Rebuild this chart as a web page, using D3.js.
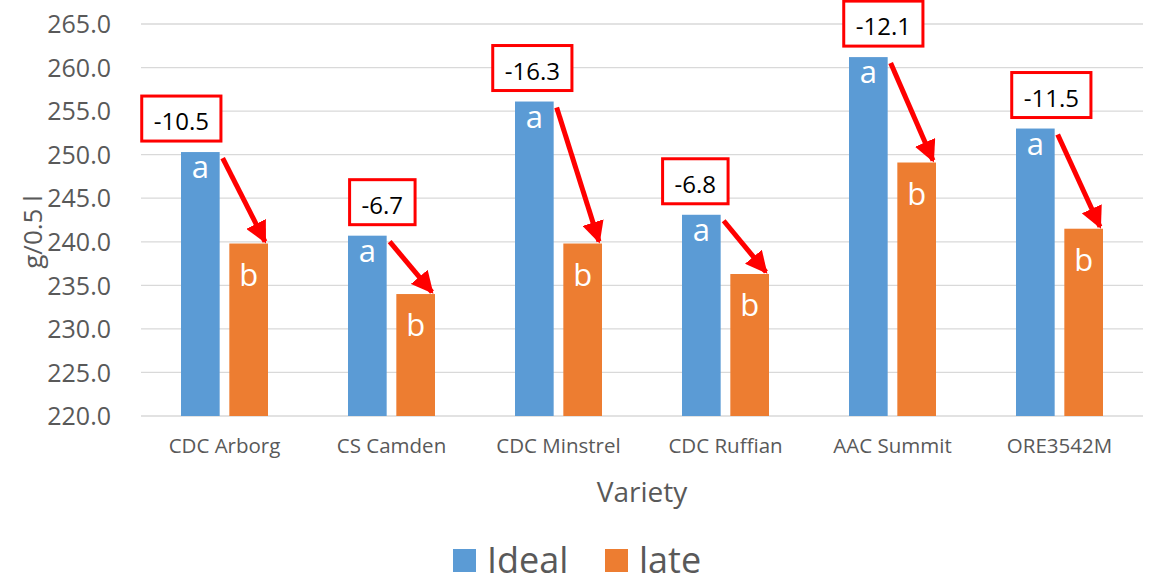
<!DOCTYPE html>
<html>
<head>
<meta charset="utf-8">
<script src="https://cdn.jsdelivr.net/npm/d3@7"></script>
<style>
  body { margin: 0; background: #fff; }
  text { font-family: "Open Sans", "Noto Sans", sans-serif; }
</style>
</head>
<body>
<div id="chart"></div>
<script>
// values
const varieties = ["CDC Arborg", "CS Camden", "CDC Minstrel", "CDC Ruffian", "AAC Summit", "ORE3542M"]
const ideal = [250.3, 240.7, 256.1, 243.1, 261.2, 253.0]
const late = [239.8, 234.0, 239.8, 236.3, 249.1, 241.5]
const change = ["-10.5", "-6.7", "-16.3", "-6.8", "-12.1", "-11.5"]
const idealLetter = ["a", "a", "a", "a", "a", "a"]
const lateLetter = ["b", "b", "b", "b", "b", "b"]
const yTicks = [220, 225, 230, 235, 240, 245, 250, 255, 260, 265]
const seriesNames = ["Ideal", "late"]
// hand placed annotation boxes, horizontal nudge from the ideal bar centre
const boxNudge = [-19, 15, -2, -6, 15, 16]

const width = 1149
const height = 579
const margin = {top: 24, right: 6, bottom: 163, left: 141}
const innerWidth = width - margin.left - margin.right
const innerHeight = height - margin.top - margin.bottom
const blue = "#5B9BD5"
const orange = "#ED7D31"
const textColor = "#595959"

const svg = d3.select('#chart').append("svg")
  .attr("width", width)
  .attr("height", height)
const g = svg.append("g")
  .attr("transform", "translate(" + margin.left + "," + margin.top + ")")

const xScale = d3.scaleBand()
  .domain(varieties)
  .range([0, innerWidth])

const inner = d3.scaleBand()
  .domain(seriesNames)
  .range([40, xScale.bandwidth() - 40])
  .paddingInner(0.2)

const yScale = d3.scaleLinear()
  .domain([220, 265])
  .range([innerHeight, 0])

// gridlines
g.append("g")
  .selectAll("line")
  .data(yTicks)
  .join("line")
  .attr("x1", 0)
  .attr("x2", innerWidth)
  .attr("y1", d => yScale(d))
  .attr("y2", d => yScale(d))
  .attr("stroke", "#D9D9D9")
  .attr("stroke-width", 1.3)

// y axis labels
const yAxis = g.append("g")
  .attr("transform", "translate(-27,0)")
  .call(d3.axisLeft(yScale).tickValues(yTicks).tickFormat(d3.format(".1f")).tickSize(0))
yAxis.select(".domain").remove()
yAxis.selectAll("text")
  .attr("fill", textColor)
  .style("font-size", "25px")
  .attr("dy", "0.35em")

// x axis labels
const xAxis = g.append("g")
  .attr("transform", "translate(0," + innerHeight + ")")
  .call(d3.axisBottom(xScale).tickSize(0))
xAxis.select(".domain").remove()
xAxis.selectAll("text")
  .attr("fill", textColor)
  .style("font-size", "20.5px")
  .attr("dy", "1.65em")

const rows = varieties.map((v, i) => ({
  variety: v, ideal: ideal[i], late: late[i], change: change[i],
  la: idealLetter[i], lb: lateLetter[i], nudge: boxNudge[i]
}))

// bars
const groups = g.selectAll(".grp")
  .data(rows)
  .join("g")
  .attr("class", "grp")
  .attr("transform", d => "translate(" + xScale(d.variety) + ",0)")

groups.append("rect")
  .attr("x", inner("Ideal"))
  .attr("width", inner.bandwidth())
  .attr("y", d => yScale(d.ideal))
  .attr("height", d => innerHeight - yScale(d.ideal))
  .attr("fill", blue)

groups.append("rect")
  .attr("x", inner("late"))
  .attr("width", inner.bandwidth())
  .attr("y", d => yScale(d.late))
  .attr("height", d => innerHeight - yScale(d.late))
  .attr("fill", orange)

// letters
groups.append("text")
  .attr("x", inner("Ideal") + inner.bandwidth() / 2)
  .attr("y", d => yScale(d.ideal) + 26)
  .attr("text-anchor", "middle")
  .attr("fill", "#fff")
  .style("font-size", "31px")
  .text(d => d.la)

groups.append("text")
  .attr("x", inner("late") + inner.bandwidth() / 2)
  .attr("y", d => yScale(d.late) + 42)
  .attr("text-anchor", "middle")
  .attr("fill", "#fff")
  .style("font-size", "31px")
  .text(d => d.lb)

// arrows
svg.append("defs").append("marker")
  .attr("id", "head")
  .attr("viewBox", "0 0 10 10")
  .attr("refX", 9)
  .attr("refY", 5)
  .attr("markerWidth", 4.4)
  .attr("markerHeight", 4.4)
  .attr("markerUnits", "strokeWidth")
  .attr("orient", "auto")
  .append("path")
  .attr("d", "M0,0 L10,5 L0,10 Z")
  .attr("fill", "#FF0000")

groups.append("line")
  .attr("x1", inner("Ideal") + inner.bandwidth() + 3)
  .attr("y1", d => yScale(d.ideal) + 6)
  .attr("x2", inner("late") + inner.bandwidth() - 3)
  .attr("y2", d => yScale(d.late) - 2)
  .attr("stroke", "#FF0000")
  .attr("stroke-width", 5)
  .attr("marker-end", "url(#head)")

// change boxes
const boxes = groups.append("g")
  .attr("transform", d => "translate(" + (inner("Ideal") + inner.bandwidth() / 2 + d.nudge) + "," + (yScale(d.ideal) - 22) + ")")

boxes.append("text")
  .attr("text-anchor", "middle")
  .attr("fill", "#000")
  .style("font-size", "24px")
  .text(d => d.change)

boxes.insert("rect", "text")
  .each(function() {
    const t = d3.select(this.parentNode).select("text").node().getBBox()
    d3.select(this)
      .attr("x", t.x - 12)
      .attr("y", -34)
      .attr("width", t.width + 24)
      .attr("height", 45)
  })
  .attr("fill", "#fff")
  .attr("stroke", "#FF0000")
  .attr("stroke-width", 3)

// axis titles
svg.append("text")
  .attr("transform", "translate(42," + (margin.top + innerHeight / 2 + 12) + ") rotate(-90)")
  .attr("text-anchor", "middle")
  .attr("fill", textColor)
  .style("font-size", "26px")
  .text("g/0.5 l")

svg.append("text")
  .attr("x", margin.left + innerWidth / 2)
  .attr("y", 502)
  .attr("text-anchor", "middle")
  .attr("fill", textColor)
  .style("font-size", "28px")
  .text("Variety")

// legend
const legend = svg.append("g")
const legendX = [453, 605]
seriesNames.forEach((name, i) => {
  legend.append("rect")
    .attr("x", legendX[i])
    .attr("y", 549)
    .attr("width", 23)
    .attr("height", 23)
    .attr("fill", i === 0 ? blue : orange)
  legend.append("text")
    .attr("x", legendX[i] + 34)
    .attr("y", 573)
    .attr("fill", textColor)
    .style("font-size", "36px")
    .text(name)
})
</script>
</body>
</html>
